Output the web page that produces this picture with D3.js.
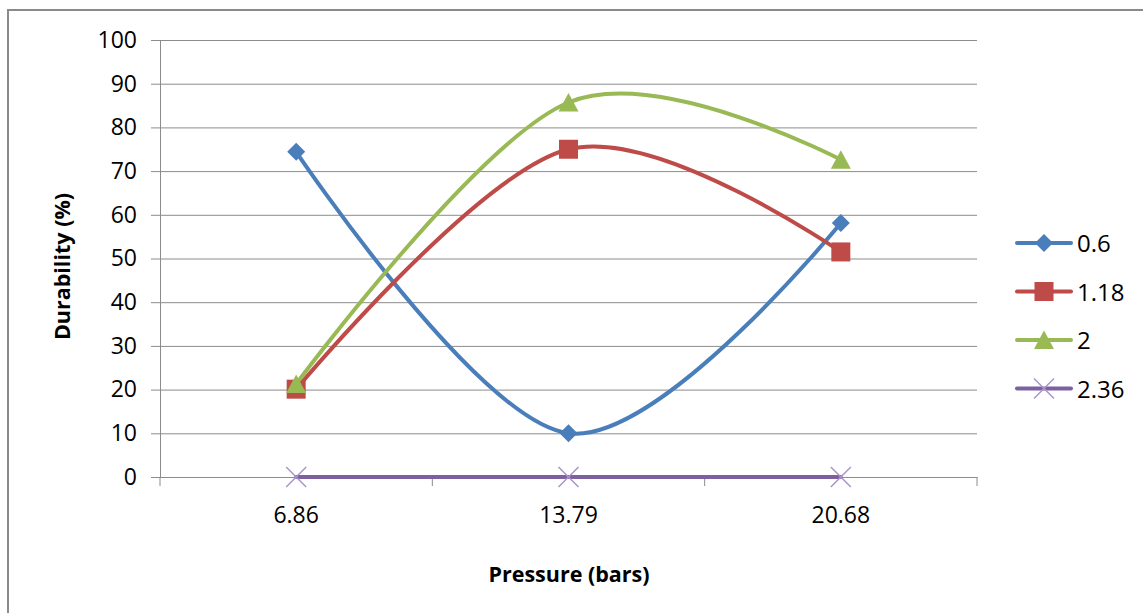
<!DOCTYPE html>
<html>
<head>
<meta charset="utf-8">
<script src="https://cdn.jsdelivr.net/npm/d3@7"></script>
<style>
  body { margin: 0; background: #fff; }
  text { font-family: "Open Sans", sans-serif; fill: #000; }
</style>
</head>
<body>
<div id="chart"></div>
<script>
// chart data
var pressures = ["6.86", "13.79", "20.68"];
var seriesNames = ["0.6", "1.18", "2", "2.36"];
var values06 = [74.4, 10, 58.1];
var values118 = [20.1, 75, 51.5];
var values2 = [21.3, 85.7, 72.6];
var values236 = [0, 0, 0];
var yTicks = [0, 10, 20, 30, 40, 50, 60, 70, 80, 90, 100];

var colors = ["#4A7EBB", "#BE4B48", "#98B954", "#7D60A0"];
var markers = ["diamond", "square", "triangle", "cross"];
var allValues = [values06, values118, values2, values236];

function drawChart() {
  var width = 1143;
  var height = 613;
  var left = 160, right = 977, top = 40, bottom = 477;

  var svg = d3.select("#chart")
    .append("svg")
    .attr("width", width)
    .attr("height", height);

  // outer chart border (runs off the right and bottom of the picture)
  svg.append("rect")
    .attr("x", 8).attr("y", 10)
    .attr("width", 1300).attr("height", 800)
    .attr("fill", "none")
    .attr("stroke", "#8a8a8a")
    .attr("stroke-width", 2);

  var xScale = d3.scaleBand()
    .domain(pressures)
    .range([left, right]);

  var yScale = d3.scaleLinear()
    .domain([0, 100])
    .range([bottom, top]);

  // gridlines
  var grid = svg.append("g")
    .attr("transform", "translate(" + left + ",0)")
    .call(d3.axisLeft(yScale).tickValues(yTicks).tickSize(-(right - left)).tickFormat(""));
  grid.select(".domain").remove();
  grid.selectAll("line").attr("stroke", "#8c8c8c").attr("stroke-width", 1);

  // y axis
  var yAxis = svg.append("g")
    .attr("transform", "translate(" + left + ",0)")
    .call(d3.axisLeft(yScale).tickValues(yTicks).tickSize(9).tickPadding(14).tickSizeOuter(0));
  yAxis.select(".domain").attr("stroke", "#8c8c8c");
  yAxis.selectAll("line").attr("stroke", "#8c8c8c");
  yAxis.selectAll("text")
    .style("font-size", "23px")
    .style("font-family", "'Open Sans', sans-serif")
    .attr("fill", "#000");

  // x axis: labels centred in each band, tick marks on band edges
  var xAxis = svg.append("g")
    .attr("transform", "translate(0," + bottom + ")")
    .call(d3.axisBottom(xScale).tickSize(0).tickPadding(30).tickSizeOuter(0));
  xAxis.select(".domain").attr("stroke", "#8c8c8c");
  xAxis.selectAll("text")
    .style("font-size", "23px")
    .style("font-family", "'Open Sans', sans-serif")
    .attr("fill", "#000");

  var edges = pressures.map(function(p) { return xScale(p); });
  edges.push(xScale(pressures[pressures.length - 1]) + xScale.bandwidth());
  svg.append("g").selectAll("line")
    .data(edges)
    .enter()
    .append("line")
    .attr("x1", d => d).attr("x2", d => d)
    .attr("y1", bottom).attr("y2", bottom + 9)
    .attr("stroke", "#8c8c8c");

  // axis titles
  svg.append("text")
    .attr("x", 569)
    .attr("y", 582)
    .attr("text-anchor", "middle")
    .style("font-size", "21.5px")
    .style("font-weight", "bold")
    .text("Pressure (bars)");

  svg.append("text")
    .attr("transform", "translate(70," + ((top + bottom) / 2 + 8) + ") rotate(-90)")
    .attr("text-anchor", "middle")
    .style("font-size", "21.5px")
    .style("font-weight", "bold")
    .text("Durability (%)");

  function cx(i) { return xScale(pressures[i]) + xScale.bandwidth() / 2; }

  var line = d3.line()
    .x((d, i) => cx(i))
    .y(d => yScale(d))
    .curve(d3.curveCardinal.tension(0));

  function drawMarker(g, type, color) {
    if (type == "diamond") {
      g.append("path").attr("d", "M0,-9L9,0L0,9L-9,0Z").attr("fill", color);
    } else if (type == "square") {
      g.append("rect").attr("x", -9.5).attr("y", -9.5).attr("width", 19).attr("height", 19).attr("fill", color);
    } else if (type == "triangle") {
      g.append("path").attr("d", "M0,-9.5L10,9L-10,9Z").attr("fill", color);
    } else {
      g.append("path").attr("d", "M-10,-10L10,10M-10,10L10,-10")
        .attr("stroke", "#A996C8").attr("stroke-width", 1.5).attr("fill", "none");
    }
  }

  allValues.forEach(function(vals, s) {
    svg.append("path")
      .datum(vals)
      .attr("d", line)
      .attr("fill", "none")
      .attr("stroke", colors[s])
      .attr("stroke-width", 4)
      .attr("stroke-linecap", "round");

    vals.forEach(function(v, i) {
      var g = svg.append("g").attr("transform", "translate(" + cx(i) + "," + yScale(v) + ")");
      drawMarker(g, markers[s], colors[s]);
    });
  });

  // legend
  var legend = svg.append("g");
  seriesNames.forEach(function(name, s) {
    var ly = 243 + s * 48.5;
    legend.append("line")
      .attr("x1", 1017).attr("x2", 1071)
      .attr("y1", ly).attr("y2", ly)
      .attr("stroke", colors[s])
      .attr("stroke-width", 4)
      .attr("stroke-linecap", "round");
    var g = legend.append("g").attr("transform", "translate(1044," + ly + ")");
    drawMarker(g, markers[s], colors[s]);
    legend.append("text")
      .attr("x", 1077)
      .attr("y", ly + 9)
      .style("font-size", "24px")
      .text(name);
  });
}

drawChart();
</script>
</body>
</html>
